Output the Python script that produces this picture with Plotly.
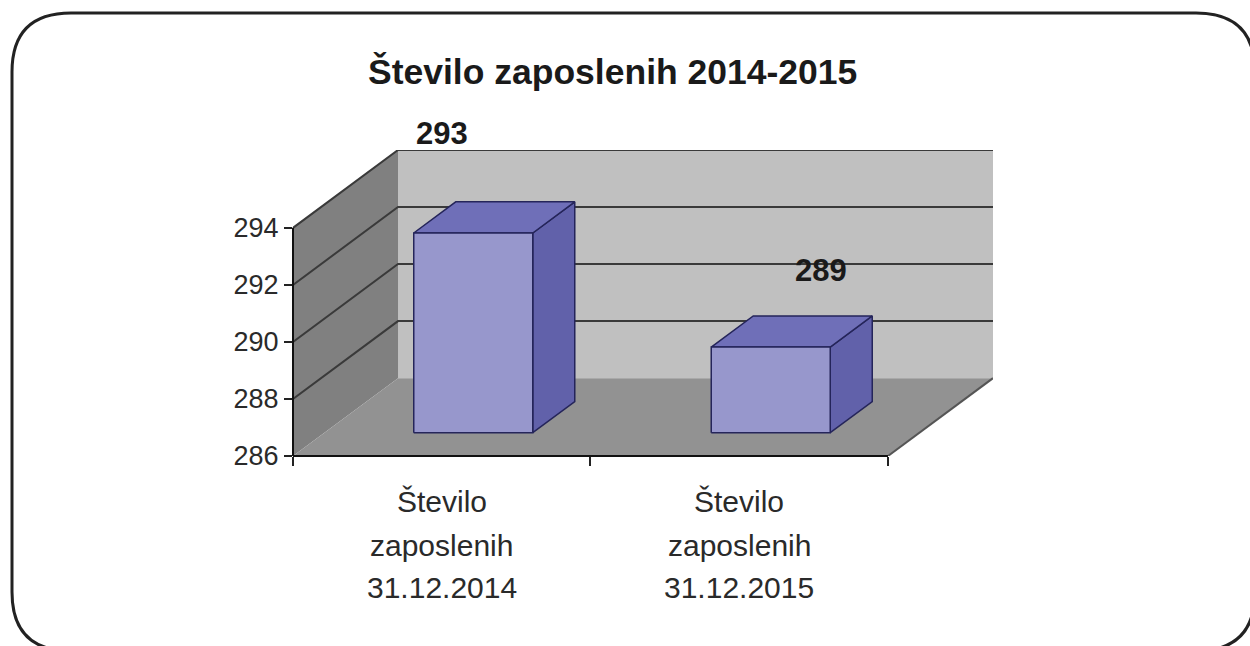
import plotly.graph_objects as go

# data
categories = ["Število zaposlenih 31.12.2014", "Število zaposlenih 31.12.2015"]
employees = [293, 289]
y_ticks = [286, 288, 290, 292, 294]
title = "Število zaposlenih 2014-2015"

W, H = 1250, 646
FONT = "Liberation Sans, Arial, sans-serif"


def sx(px):
    return px / W


def sy(py):
    return 1 - py / H


# pseudo 3d geometry (data units)
n = len(categories)
Y_MIN, Y_MAX = y_ticks[0], y_ticks[-1]
DX, DY = 0.353, 2.73          # offset of back wall relative to front plane
Z0, Z1 = 0.3, 0.7             # bar depth span
HALF = 0.2                    # half bar width

XR = [0, n + DX]
YR = [Y_MIN, Y_MAX + DY]
XD = [sx(293), sx(993)]
YD = [sy(456), sy(150)]


def proj(x, y, z):
    return x + z * DX, y + z * DY


def poly(pts):
    xs, ys = zip(*[proj(*p) for p in pts])
    return list(xs) + [xs[0]], list(ys) + [ys[0]]


def to_paper(x, y):
    px = XD[0] + (x - XR[0]) / (XR[1] - XR[0]) * (XD[1] - XD[0])
    py = YD[0] + (y - YR[0]) / (YR[1] - YR[0]) * (YD[1] - YD[0])
    return px, py


def face(pts, fill, line="rgba(0,0,0,0)", width=0):
    xs, ys = poly(pts)
    return go.Scatter(x=xs, y=ys, mode="lines", fill="toself", fillcolor=fill,
                      line=dict(color=line, width=width), hoverinfo="skip", showlegend=False)


fig = go.Figure()

# walls and floor
fig.add_trace(face([(0, Y_MIN, 1), (n, Y_MIN, 1), (n, Y_MAX, 1), (0, Y_MAX, 1)], "#c0c0c0"))
fig.add_trace(face([(0, Y_MIN, 0), (0, Y_MIN, 1), (0, Y_MAX, 1), (0, Y_MAX, 0)], "#808080"))
fig.add_trace(face([(0, Y_MIN, 0), (n, Y_MIN, 0), (n, Y_MIN, 1), (0, Y_MIN, 1)], "#929292"))

# gridlines on side and back wall
gx, gy = [], []
for v in y_ticks[1:]:
    for p in [(0, v, 0), (0, v, 1), (n, v, 1)]:
        x, y = proj(*p)
        gx.append(x)
        gy.append(y)
    gx.append(None)
    gy.append(None)
fig.add_trace(go.Scatter(x=gx, y=gy, mode="lines", line=dict(color="#3a3a3a", width=2),
                         hoverinfo="skip", showlegend=False))

# floor right edge
ex, ey = zip(proj(n, Y_MIN, 0), proj(n, Y_MIN, 1))
fig.add_trace(go.Scatter(x=list(ex), y=list(ey), mode="lines", line=dict(color="#555555", width=2),
                         hoverinfo="skip", showlegend=False))

# bars
edge = "#25255a"
for i, v in enumerate(employees):
    x0, x1 = i + 0.5 - HALF, i + 0.5 + HALF
    fig.add_trace(face([(x1, Y_MIN, Z0), (x1, Y_MIN, Z1), (x1, v, Z1), (x1, v, Z0)], "#6161aa", edge, 1.5))
    fig.add_trace(face([(x0, v, Z0), (x1, v, Z0), (x1, v, Z1), (x0, v, Z1)], "#6f6fb8", edge, 1.5))
    fig.add_trace(face([(x0, Y_MIN, Z0), (x1, Y_MIN, Z0), (x1, v, Z0), (x0, v, Z0)], "#9797cc", edge, 1.5))

shapes = []
# front axis lines
ax0, ay0 = to_paper(0, Y_MIN)
ax1, ay1 = to_paper(0, Y_MAX)
bx1, _ = to_paper(n, Y_MIN)
shapes.append(dict(type="line", xref="paper", yref="paper", x0=ax0, y0=ay0, x1=ax1, y1=ay1,
                   line=dict(color="#111111", width=2)))
shapes.append(dict(type="line", xref="paper", yref="paper", x0=ax0, y0=ay0, x1=bx1, y1=ay0,
                   line=dict(color="#111111", width=2)))

# rounded frame
fl, ft, fr, fb, R = 12, 13, 1255, 651, 59
def P(px, py):
    return f"{sx(px):.5f},{sy(py):.5f}"
frame = (f"M {P(fl + R, ft)} L {P(fr - R, ft)} Q {P(fr, ft)} {P(fr, ft + R)} "
         f"L {P(fr, fb - R)} Q {P(fr, fb)} {P(fr - R, fb)} L {P(fl + R, fb)} "
         f"Q {P(fl, fb)} {P(fl, fb - R)} L {P(fl, ft + R)} Q {P(fl, ft)} {P(fl + R, ft)} Z")
shapes.append(dict(type="path", xref="paper", yref="paper", path=frame,
                   line=dict(color="#222222", width=3)))

annotations = []

# value labels (offsets mimic the original placement)
label_offsets = [(0.0, 4.3), (0.275, 3.5)]
for i, v in enumerate(employees):
    lx, ly = to_paper(i + 0.5 + label_offsets[i][0], v + label_offsets[i][1])
    annotations.append(dict(x=lx, y=ly, xref="paper", yref="paper", text=f"<b>{v}</b>", showarrow=False,
                            xanchor="center", yanchor="middle",
                            font=dict(family=FONT, size=31, color="#1a1a1a")))

# category labels, three lines each
line_y = [501, 545, 587]
for i, cat in enumerate(categories):
    words = cat.split(" ")
    lines = [words[0], words[1], " ".join(words[2:])]
    cx, _ = to_paper(i + 0.5, Y_MIN)
    for txt, yy in zip(lines, line_y):
        annotations.append(dict(x=cx, y=sy(yy), xref="paper", yref="paper", text=txt, showarrow=False,
                                xanchor="center", yanchor="middle",
                                font=dict(family=FONT, size=30, color="#2a2a2a")))

annotations.append(dict(x=sx(612), y=sy(72), xref="paper", yref="paper", text=f"<b>{title}</b>",
                        showarrow=False, xanchor="center", yanchor="middle",
                        font=dict(family=FONT, size=35.5, color="#1a1a1a")))

fig.update_layout(
    width=W, height=H,
    margin=dict(l=0, r=0, t=0, b=0, autoexpand=False),
    paper_bgcolor="white", plot_bgcolor="rgba(0,0,0,0)",
    shapes=shapes, annotations=annotations,
    showlegend=False,
    xaxis=dict(domain=XD, range=XR, showgrid=False, zeroline=False, showline=False,
               tickvals=list(range(n + 1)), showticklabels=False, automargin=False,
               ticks="outside", ticklen=9, tickwidth=1.5, tickcolor="#222222",
               fixedrange=True),
    yaxis=dict(domain=YD, range=YR, showgrid=False, zeroline=False, showline=False,
               tickvals=y_ticks, ticks="outside", ticklen=8, tickwidth=1.5, tickcolor="#222222",
               tickfont=dict(family=FONT, size=27, color="#2a2a2a"), automargin=False,
               fixedrange=True),
)

fig.write_html("out.html", config={"displayModeBar": False},
               post_script="document.body.style.margin='0';document.body.style.overflow='hidden';")
